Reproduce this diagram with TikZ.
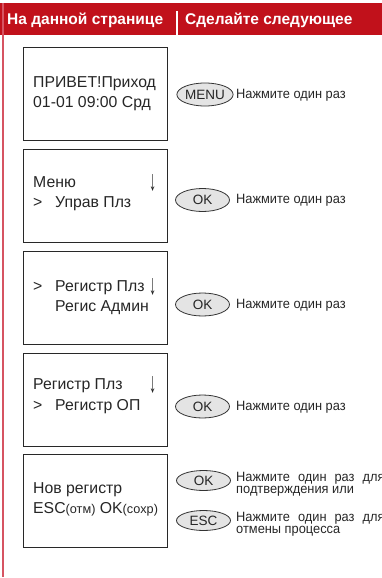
\documentclass[tikz,border=0pt]{standalone}
\usepackage{fontspec}
\setmainfont{Liberation Sans}
\newfontfamily\narrowfont[FakeStretch=0.95]{Liberation Sans}
\usetikzlibrary{shapes.geometric}
\definecolor{hdrred}{RGB}{193,17,27}
\definecolor{sideline}{RGB}{214,84,98}
\definecolor{btnfill}{RGB}{228,228,228}
\definecolor{boxline}{RGB}{40,40,40}
\newcommand{\dnarrow}{\scalebox{0.9}[1.8]{↓}}
\begin{document}
\begin{tikzpicture}[x=1pt,y=-1pt,
  lcd/.style={draw=boxline, line width=1.1pt, minimum width=144pt, minimum height=93pt, anchor=north west, inner sep=0pt},
  lcdtxt/.style={anchor=base west, inner sep=0pt, font=\fontsize{15.8}{18}\selectfont, text=black!85},
  btn/.style={ellipse, draw=black!80, fill=btnfill, line width=0.8pt, minimum width=54pt, minimum height=23pt, inner sep=0pt, font=\fontsize{13.5}{15}\selectfont, text=black!85},
  sbtn/.style={btn, minimum height=20pt},
  note/.style={anchor=base west, inner sep=0pt, font=\narrowfont\fontsize{13.5}{15}\selectfont, text=black!85},
  hdr/.style={anchor=base west, inner sep=0pt, text=white, font=\bfseries\fontsize{15.5}{18}\selectfont}]
\useasboundingbox (0,0) rectangle (382,578);
% header
\fill[hdrred] (0,3) rectangle (382,35);
\draw[sideline, line width=1.5pt] (3,3) -- (3,577);
\coordinate (dtop) at (177,11);
\coordinate (dbot) at (177,35);
\draw[white, line width=2pt] (dtop) -- (dbot);
\node[hdr] (h1) at (7,25) {На данной странице};
\node[hdr] (h2) at (185,25) {Сделайте следующее};
% screens
\node[lcd] (s1) at (23,47) {};
\node[lcd] (s2) at (23,149) {};
\node[lcd] (s3) at (23,251) {};
\node[lcd] (s4) at (23,353) {};
\node[lcd] (s5) at (23,454) {};
% screen 1
\node[lcdtxt] (t11) at (33,88) {ПРИВЕТ!Приход};
\node[lcdtxt] (t12) at (33,107) {01-01 09:00 Срд};
% screen 2
\node[lcdtxt] (t21) at (33,187) {Меню};
\node[lcdtxt] (a2) at (149,190) {\dnarrow};
\node[lcdtxt] (g2) at (33,207) {>};
\node[lcdtxt] (t22) at (55,207) {Управ Плз};
% screen 3
\node[lcdtxt] (g3) at (33,291) {>};
\node[lcdtxt] (t31) at (55,291) {Регистр Плз};
\node[lcdtxt] (a3) at (149,294) {\dnarrow};
\node[lcdtxt] (t32) at (55,311) {Регис Админ};
% screen 4
\node[lcdtxt] (t41) at (33,389) {Регистр Плз};
\node[lcdtxt] (a4) at (149,392) {\dnarrow};
\node[lcdtxt] (g4) at (33,410) {>};
\node[lcdtxt] (t42) at (55,410) {Регистр ОП};
% screen 5
\node[lcdtxt] (t51) at (33,493) {Нов регистр};
\node[lcdtxt] (t52) at (33,513) {ESC{\fontsize{12.7}{15}\selectfont(отм)} OK{\fontsize{12.7}{15}\selectfont(сохр)}};
% buttons
\node[btn] (b1) at (205,94.5) {MENU};
\node[note] (n1) at (236,98) {Нажмите один раз};
\node[btn] (b2) at (202.5,200) {OK};
\node[note] (n2) at (236,203.5) {Нажмите один раз};
\node[btn] (b3) at (202.5,304.5) {OK};
\node[note] (n3) at (236,308) {Нажмите один раз};
\node[btn] (b4) at (202.5,406.5) {OK};
\node[note] (n4) at (236,410) {Нажмите один раз};
\node[sbtn] (b5) at (203.5,480.5) {OK};
\node[note] (n51) at (236,481) {Нажмите\hskip 8pt один\hskip 8pt раз\hskip 8pt для};
\node[note] (n52) at (236,493) {подтверждения или};
\node[sbtn] (b6) at (203.5,520.5) {ESC};
\node[note] (n61) at (236,521) {Нажмите\hskip 8pt один\hskip 8pt раз\hskip 8pt для};
\node[note] (n62) at (236,533) {отмены процесса};
\end{tikzpicture}
\end{document}
